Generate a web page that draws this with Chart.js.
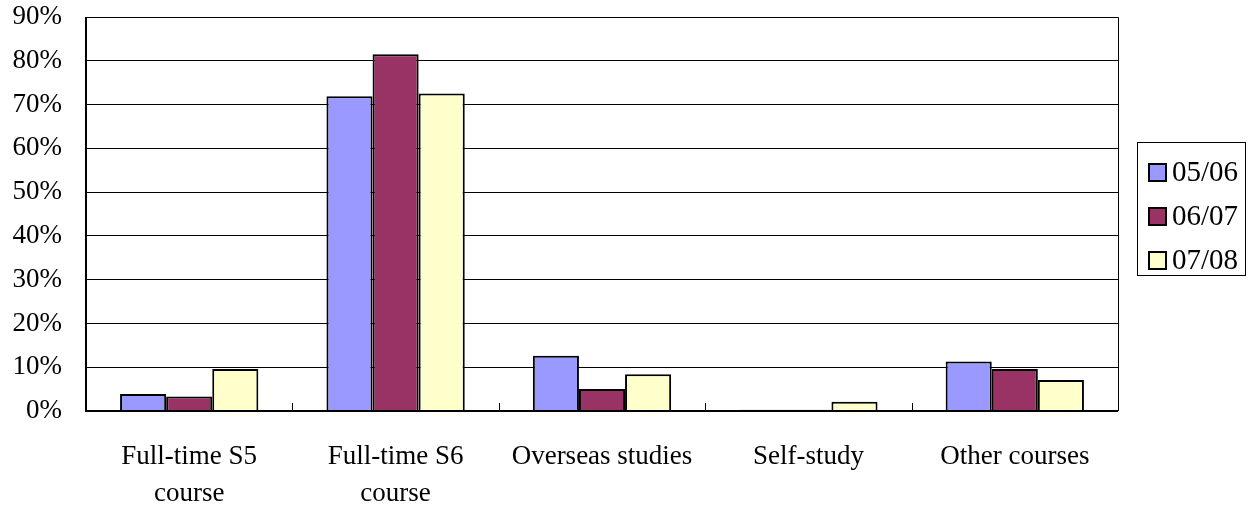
<!DOCTYPE html>
<html>
<head>
<meta charset="utf-8">
<script src="https://cdn.jsdelivr.net/npm/chart.js@4/dist/chart.umd.min.js"></script>
<style>
  html, body { margin: 0; padding: 0; background: #fff; }
  #wrap { width: 1249px; height: 510px; position: relative; }
</style>
</head>
<body>
<div id="wrap"><canvas id="chart"></canvas></div>
<script>
// Categories and series values (percent)
const categories = [
    ['Full-time S5', 'course'],
    ['Full-time S6', 'course'],
    'Overseas studies',
    'Self-study',
    'Other courses'
];
const seriesLabels = ['05/06', '06/07', '07/08'];
const values0506 = [3.9, 71.9, 12.6, 0.3, 11.3];
const values0607 = [3.3, 81.5, 5.0, 0.3, 9.6];
const values0708 = [9.6, 72.5, 8.4, 2.1, 7.1];
const yTicks = [0, 10, 20, 30, 40, 50, 60, 70, 80, 90];

const colors = ['#9999ff', '#993366', '#ffffcc'];
const font = { family: '"Liberation Serif", "Times New Roman", serif', size: 27, lineHeight: 1.37 };

// Draws the frame, category tick marks and a boxed legend at the right
const framePlugin = {
    id: 'frame',
    afterDraw(chart) {
        const ctx = chart.ctx;
        const area = chart.chartArea;
        ctx.save();
        ctx.strokeStyle = '#000';
        ctx.lineWidth = 1;
        // top and right frame
        ctx.beginPath();
        ctx.moveTo(area.left, Math.round(area.top) + 0.5);
        ctx.lineTo(Math.round(area.right) + 0.5, Math.round(area.top) + 0.5);
        ctx.lineTo(Math.round(area.right) + 0.5, area.bottom);
        ctx.stroke();
        // category tick marks
        const step = (area.right - area.left) / categories.length;
        ctx.beginPath();
        for (let i = 1; i < categories.length; i++) {
            const px = Math.round(area.left + step * i) + 0.5;
            ctx.moveTo(px, area.bottom);
            ctx.lineTo(px, area.bottom - 8);
        }
        ctx.stroke();
        // left/bottom axes, thicker
        ctx.lineWidth = 2;
        ctx.beginPath();
        ctx.moveTo(area.left, area.top);
        ctx.lineTo(area.left, area.bottom);
        ctx.lineTo(area.right, area.bottom);
        ctx.stroke();

        // legend
        const lx = 1137, ly = 142, lw = 108, lh = 133;
        ctx.lineWidth = 1;
        ctx.strokeRect(lx + 0.5, ly + 0.5, lw, lh);
        ctx.font = '29px ' + font.family;
        ctx.textBaseline = 'middle';
        ctx.textAlign = 'left';
        chart.data.datasets.forEach((ds, i) => {
            const cy = ly + 30 + i * 44;
            ctx.fillStyle = ds.backgroundColor;
            ctx.fillRect(lx + 12, cy - 8, 17, 17);
            ctx.lineWidth = 2;
            ctx.strokeRect(lx + 12, cy - 8, 17, 17);
            ctx.fillStyle = '#000';
            ctx.fillText(ds.label, lx + 35, cy + 1);
        });
        ctx.restore();
    }
};

new Chart(document.getElementById('chart'), {
    type: 'bar',
    data: {
        labels: categories,
        datasets: [
            { label: seriesLabels[0], data: values0506, backgroundColor: colors[0] },
            { label: seriesLabels[1], data: values0607, backgroundColor: colors[1] },
            { label: seriesLabels[2], data: values0708, backgroundColor: colors[2] }
        ].map(d => Object.assign(d, { borderColor: '#000', borderWidth: 2 }))
    },
    options: {
        responsive: true,
        maintainAspectRatio: false,
        animation: false,
        devicePixelRatio: 1,
        layout: { padding: { top: 0, right: 131, left: 0, bottom: 0 } },
        datasets: {
            bar: { categoryPercentage: 0.67, barPercentage: 1.0 }
        },
        plugins: {
            legend: { display: false },
            tooltip: { enabled: false }
        },
        scales: {
            x: {
                grid: { display: false, drawTicks: false },
                border: { display: false },
                ticks: { font: font, color: '#000', padding: 27, maxRotation: 0, autoSkip: false },
                afterFit(scale) { scale.height = 99; }
            },
            y: {
                min: 0,
                max: 90,
                afterBuildTicks(scale) {
                    scale.ticks = yTicks.map(v => ({ value: v }));
                },
                afterFit(scale) {
                    scale.width = 86;
                    scale.paddingTop = 17;
                    scale.paddingBottom = 0;
                },
                grid: { color: '#000', lineWidth: 1, drawTicks: false },
                border: { display: false },
                ticks: {
                    font: font,
                    color: '#000',
                    padding: 24,
                    autoSkip: false,
                    callback: v => v + '%'
                }
            }
        }
    },
    plugins: [framePlugin]
});
</script>
</body>
</html>
